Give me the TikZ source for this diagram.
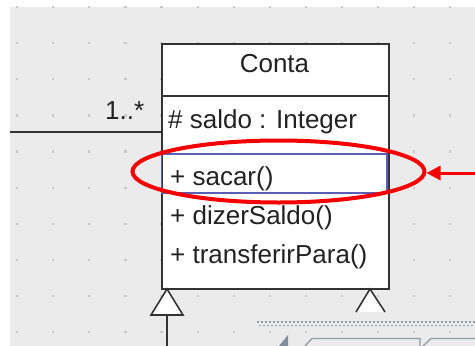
\documentclass[tikz,border=0pt]{standalone}
\usepackage{fontspec}
\setmainfont{Liberation Sans}
\usetikzlibrary{shapes.geometric,arrows.meta}
\definecolor{bggray}{HTML}{EBEBEB}
\definecolor{dotgray}{HTML}{C9C9C9}
\definecolor{boxline}{HTML}{333333}
\definecolor{selblue}{HTML}{5A5EB4}
\definecolor{hlred}{HTML}{F50000}
\definecolor{tabgray}{HTML}{8F9DAB}
\definecolor{txt}{HTML}{222222}
\tikzset{
  umltext/.style={inner sep=0pt, text=txt, font=\fontsize{26}{30}\selectfont},
  classbox/.style={draw=boxline, line width=2pt, fill=white, inner sep=0pt, minimum width=227pt, minimum height=245pt},
  assoc/.style={draw=boxline, line width=2pt},
  gentri/.style={draw=boxline, line width=1.6pt, fill=white, line join=miter},
  hlring/.style={ellipse, draw=hlred, line width=4pt, minimum width=292pt, minimum height=62pt, inner sep=0pt},
  hlarrow/.style={draw=hlred, line width=3pt, -{Triangle[length=14pt,width=14pt]}},
  selrow/.style={draw=selblue, line width=1.6pt},
  dotband/.style={draw=tabgray, line width=1.8pt, dash pattern=on 2pt off 2pt},
  tabline/.style={draw=tabgray, line width=1.3pt}
}
\begin{document}
\begin{tikzpicture}[x=1pt,y=-1pt]
\useasboundingbox (0,0) rectangle (475,346);
% background
\fill[white] (0,0) rectangle (475,346);
\fill[bggray] (10,7) rectangle (475,346);
\foreach \i in {0,...,12} {
  \foreach \j in {0,...,9} {
    \fill[dotgray] ({17+36.1*\i-1},{7+36.1*\j-1}) rectangle ++(2.2,2.2);
  }
}
% class box shadow and box
\fill[gray!60] (163,45) rectangle (390,290);
\node[classbox, anchor=north west] (conta) at (161,43) {};
\draw[boxline, line width=2pt] (161,96) -- (388,96);
\coordinate (selnw) at (161.5,154);
\coordinate (selse) at (387,193);
\draw[selrow] (selnw) rectangle (selse);
% texts
\node[umltext, anchor=base] (title) at (274.5,72) {Conta};
\node[umltext, anchor=base west] (attr) at (168,128) {\# saldo : Integer};
\node[umltext, anchor=base west] (op1) at (170,185) {+ sacar()};
\node[umltext, anchor=base west] (op2) at (170,224) {+ dizerSaldo()};
\node[umltext, anchor=base west] (op3) at (170,263) {+ transferirPara()};
% association
\coordinate (assocend) at (10,132);
\draw[assoc] (assocend) -- (assocend -| conta.west);
\node[umltext, anchor=base west] (mult) at (105,119) {1..*};
% generalization triangles
\coordinate (lapex) at (167,289);
\coordinate (lbase) at (167,315);
\coordinate (lsub) at (167,346);
\draw[gentri] (lapex) -- (151,315) -- (183,315) -- cycle;
\draw[assoc] (lsub) -- (lbase);
\coordinate (rapex) at (370,289);
\fill[white] (rapex) -- (356,312) -- (385,312) -- cycle;
\draw[boxline, line width=1.6pt] (356,312) -- (rapex) -- (385,312);
% dotted selection band
\draw[dotband] (257,322) -- (475,322);
\draw[dotband, dash phase=2pt] (257,325.5) -- (475,325.5);
% bottom tabs
\fill[tabgray!90!black] (279,346) -- (288,335) -- (288,346) -- cycle;
\draw[tabline] (305,346) -- (312,338.5) -- (420,338.5) -- (420,346);
\draw[tabline] (423,346) -- (431,338.5) -- (475,338.5);
% highlight
\node[hlring] (hl) at (278.5,171.5) {};
\coordinate (arrowstart) at (475,173);
\draw[hlarrow] (arrowstart) -- (hl.east |- arrowstart);
\end{tikzpicture}
\end{document}
